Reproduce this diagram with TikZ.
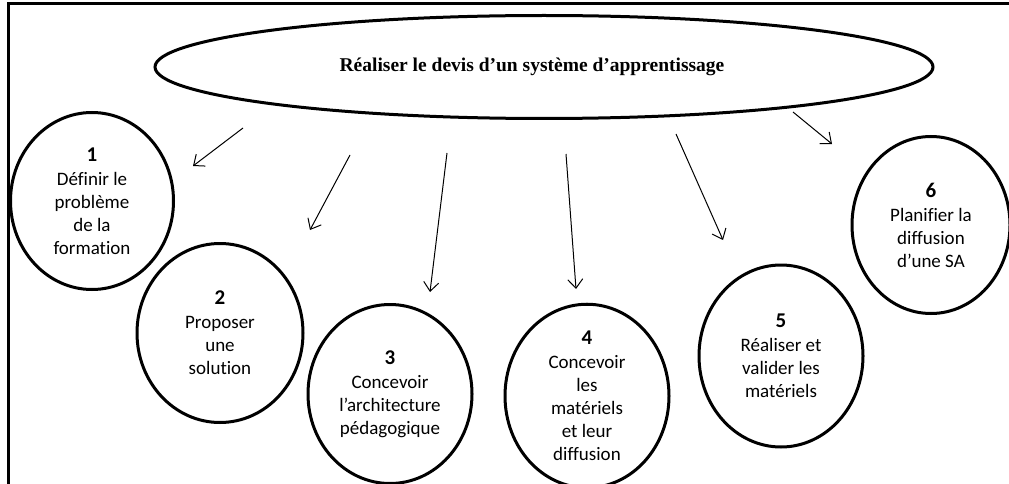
\documentclass[tikz,border=0pt]{standalone}
\usepackage{fontspec}
\setmainfont{Carlito}[Ligatures=NoCommon]
\newfontfamily\titrefont{Liberation Serif}
\usetikzlibrary{shapes.geometric,arrows.meta}

\begin{document}
\begin{tikzpicture}[x=1pt,y=-1pt,
    etape/.style={draw, ellipse, line width=3pt, inner sep=0pt,
        minimum width=164pt, minimum height=179pt, align=center,
        font=\fontsize{19}{23}\selectfont},
    fleche/.style={line width=1pt, -{Straight Barb[length=9pt,width=15pt]}}]

    \useasboundingbox (0,0) rectangle (1009,484);

    % cadre (haut et gauche)
    \draw[line width=3pt] (8,484) -- (8,4) -- (1009,4);

    % ellipse principale
    \node[draw, ellipse, line width=3pt, inner sep=0pt,
        minimum width=778pt, minimum height=103pt]
        (devis) at (544,67)
        {\titrefont\bfseries\fontsize{19.5}{22}\selectfont R\'ealiser le devis d’un syst\`eme d’apprentissage\hspace*{24pt}};

    % etapes
    \node[etape, minimum width=163pt, minimum height=177pt] (e1) at (92,201)
        {{\bfseries\fontsize{21}{23}\selectfont 1}\\[1pt] Définir le\\ problème\\ de la\\ formation};
    \node[etape, minimum width=166pt] (e2) at (220,333)
        {{\bfseries\fontsize{21}{23}\selectfont 2}\\[1pt] Proposer\\ une\\ solution};
    \node[etape] (e3) at (390,394)
        {{\bfseries\fontsize{21}{23}\selectfont 3}\\[1pt] Concevoir\\ l’architecture\\ pédagogique};
    \node[etape] (e4) at (587,396)
        {{\bfseries\fontsize{21}{23}\selectfont 4}\\[1pt] Concevoir\\ les\\ matériels\\ et leur\\ diffusion};
    \node[etape, minimum height=182pt] (e5) at (781,356)
        {{\bfseries\fontsize{21}{23}\selectfont 5}\\[1pt] Réaliser et\\ valider les\\ matériels};
    \node[etape, minimum width=158pt, minimum height=177pt] (e6) at (931,225)
        {{\bfseries\fontsize{21}{23}\selectfont 6}\\[1pt] Planifier la\\ diffusion\\ d’une SA};

    % bouts des fleches
    \coordinate (d1) at (243,128);  \coordinate (a1) at (193,166);
    \coordinate (d2) at (350,155);  \coordinate (a2) at (310,230);
    \coordinate (d3) at (447,153);  \coordinate (a3) at (430,292);
    \coordinate (d4) at (566,154);  \coordinate (a4) at (576,289);
    \coordinate (d5) at (676,134);  \coordinate (a5) at (723,240);
    \coordinate (d6) at (793,112);  \coordinate (a6) at (832,144);

    % fleches
    \draw[fleche] (d1) -- (a1);
    \draw[fleche] (d2) -- (a2);
    \draw[fleche] (d3) -- (a3);
    \draw[fleche] (d4) -- (a4);
    \draw[fleche] (d5) -- (a5);
    \draw[fleche] (d6) -- (a6);

\end{tikzpicture}
\end{document}
